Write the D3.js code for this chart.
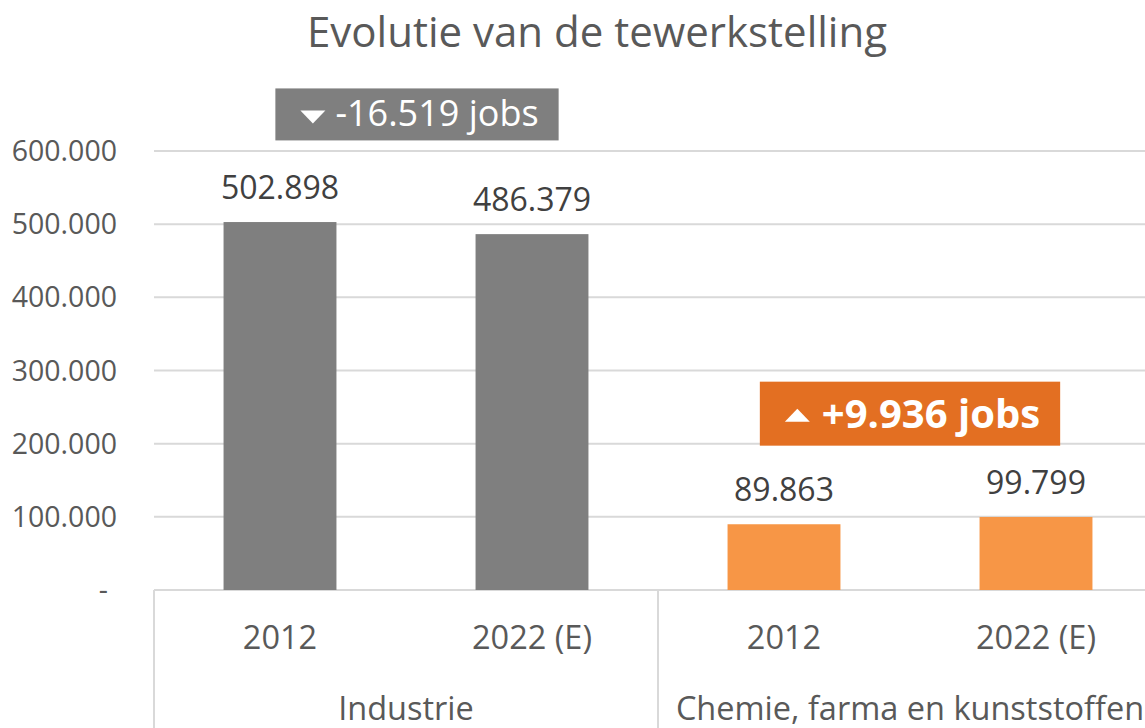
<!DOCTYPE html>
<html lang="nl">
<head>
<meta charset="UTF-8">
<title>Evolutie van de tewerkstelling</title>
<script src="https://cdn.jsdelivr.net/npm/d3@7"></script>
<style>
    body { margin: 0; background: #fff; }
    svg { display: block; font-family: "Open Sans", sans-serif; }
    .title { fill: #595959; font-size: 42px; }
    .ylab { fill: #595959; font-size: 28.5px; }
    .vlab { fill: #404040; font-size: 32px; }
    .xlab { fill: #595959; font-size: 32.5px; }
    .grid { stroke: #d9d9d9; stroke-width: 2px; }
</style>
</head>
<body>
<svg id="chart" width="1145" height="728"></svg>
<script>
// categories and values
const groups = ["Industrie", "Chemie, farma en kunststoffen"];
const years = ["2012", "2022 (E)"];
const values = {
    "Industrie": [502898, 486379],
    "Chemie, farma en kunststoffen": [89863, 99799]
};
const yTicks = [0, 100000, 200000, 300000, 400000, 500000, 600000];
const annotations = [
    { group: "Industrie", text: "-16.519 jobs", up: false, at: 650000 },
    { group: "Chemie, farma en kunststoffen", text: "+9.936 jobs", up: true, at: 241000 }
];

const W = 1145, H = 728;
const margin = { left: 154, right: -17, top: 151, bottom: 138 };
const barColors = { "Industrie": "#7f7f7f", "Chemie, farma en kunststoffen": "#f79646" };
const boxColors = { "Industrie": "#7f7f7f", "Chemie, farma en kunststoffen": "#e36f22" };

const rows = [];
groups.forEach(g => years.forEach((yr, i) => rows.push({ group: g, year: yr, key: g + "|" + yr, value: values[g][i] })));

const nl = d3.formatLocale({ decimal: ",", thousands: ".", grouping: [3], currency: ["€", ""] });
const fmt = nl.format(",.0f");

const svg = d3.select("#chart");

const x = d3.scaleBand()
    .domain(rows.map(d => d.key))
    .range([margin.left, W - margin.right])
    .paddingInner(0.552)
    .paddingOuter(0.276);
const y = d3.scaleLinear()
    .domain([0, 600000])
    .range([H - margin.bottom, margin.top]);

// group extents
const step = x.step();
const gx0 = g => x(g + "|" + years[0]) - x.paddingOuter() * step;
const gx1 = g => x(g + "|" + years[years.length - 1]) + x.bandwidth() + x.paddingOuter() * step;

// title
svg.append("text").attr("class", "title")
    .attr("x", 597).attr("y", 47)
    .attr("text-anchor", "middle")
    .text("Evolutie van de tewerkstelling");

// gridlines
svg.append("g").selectAll("line")
    .data(yTicks)
    .join("line")
    .attr("class", "grid")
    .attr("x1", margin.left).attr("x2", W)
    .attr("y1", d => y(d)).attr("y2", d => y(d));

// y labels
svg.append("g").selectAll("text")
    .data(yTicks)
    .join("text")
    .attr("class", "ylab")
    .attr("x", d => d === 0 ? 108 : 117)
    .attr("y", d => y(d) + 10)
    .attr("text-anchor", "end")
    .text(d => d === 0 ? "-" : fmt(d));

// bars
svg.append("g").selectAll("rect")
    .data(rows)
    .join("rect")
    .attr("x", d => x(d.key))
    .attr("width", x.bandwidth())
    .attr("y", d => y(d.value))
    .attr("height", d => y(0) - y(d.value))
    .attr("fill", d => barColors[d.group]);

// value labels
svg.append("g").selectAll("text")
    .data(rows)
    .join("text")
    .attr("class", "vlab")
    .attr("x", d => x(d.key) + x.bandwidth() / 2)
    .attr("y", d => y(d.value) - 23)
    .attr("text-anchor", "middle")
    .text(d => fmt(d.value));

// category axis separators
const seps = groups.map(gx0).concat([gx1(groups[groups.length - 1])]);
svg.append("g").selectAll("line")
    .data(seps)
    .join("line")
    .attr("class", "grid")
    .attr("x1", d => d).attr("x2", d => d)
    .attr("y1", y(0)).attr("y2", H);

// year labels
svg.append("g").selectAll("text")
    .data(rows)
    .join("text")
    .attr("class", "xlab")
    .attr("x", d => x(d.key) + x.bandwidth() / 2)
    .attr("y", y(0) + 59)
    .attr("text-anchor", "middle")
    .text(d => d.year);

// group labels
svg.append("g").selectAll("text")
    .data(groups)
    .join("text")
    .attr("class", "xlab")
    .attr("x", g => (gx0(g) + gx1(g)) / 2)
    .attr("y", y(0) + 130)
    .attr("text-anchor", "middle")
    .text(g => g);

// change annotations
annotations.forEach(a => {
    const cx = (gx0(a.group) + gx1(a.group)) / 2;
    const cy = y(a.at);
    const g = svg.append("g");
    const t = g.append("text")
        .attr("y", cy + (a.up ? 14 : 12))
        .attr("fill", "#fff")
        .attr("font-size", a.up ? "40px" : "36px")
        .attr("font-weight", a.up ? "bold" : "normal")
        .text(a.text);
    const tw = t.node().getComputedTextLength();
    const triW = 25, gap = a.up ? 12 : 10, padL = 25, padR = 20;
    const total = padL + triW + gap + tw + padR;
    const bx = cx - total / 2 + (a.up ? 0 : 11);
    const bh = a.up ? 64 : 52;
    g.insert("rect", "text")
        .attr("x", bx).attr("y", cy - bh / 2)
        .attr("width", total).attr("height", bh)
        .attr("fill", boxColors[a.group]);
    t.attr("x", bx + padL + triW + gap);
    const tx = bx + padL, ty = cy + 2;
    const tri = a.up
        ? [[tx, ty + 6], [tx + triW, ty + 6], [tx + triW / 2, ty - 7]]
        : [[tx, ty - 6], [tx + triW, ty - 6], [tx + triW / 2, ty + 7]];
    g.append("path")
        .attr("d", d3.line()(tri) + "Z")
        .attr("fill", "#fff");
});
</script>
</body>
</html>
